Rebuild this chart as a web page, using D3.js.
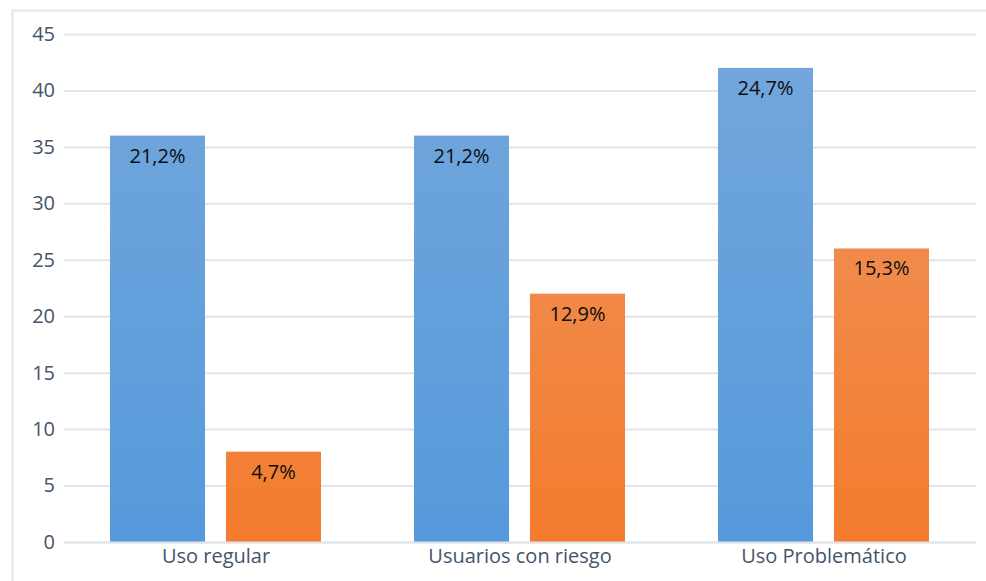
<!DOCTYPE html>
<html>
<head>
<meta charset="utf-8">
<script src="https://cdn.jsdelivr.net/npm/d3@7"></script>
<style>
  body { margin: 0; background: #fff; }
  text { font-family: "Open Sans", "Noto Sans", sans-serif; }
</style>
</head>
<body>
<div id="chart"></div>
<script>
const categories = ["Uso regular", "Usuarios con riesgo", "Uso Problemático"];
const seriesA = [36, 36, 42];
const seriesB = [8, 22, 26];
const labelsA = ["21,2%", "21,2%", "24,7%"];
const labelsB = ["4,7%", "12,9%", "15,3%"];
const yTicks = [0, 5, 10, 15, 20, 25, 30, 35, 40, 45];

const W = 986, H = 581;
const margin = { top: 34, right: 10, bottom: 39, left: 64 };
const width = 976 - margin.left;
const height = 542 - margin.top;

const svg = d3.select("#chart")
  .append("svg")
  .attr("width", W)
  .attr("height", H);

// chart frame (top and left edges visible)
svg.append("line")
  .attr("x1", 12).attr("x2", W).attr("y1", 10.5).attr("y2", 10.5)
  .attr("stroke", "#e3e6ec").attr("stroke-width", 2);
svg.append("line")
  .attr("x1", 12.5).attr("x2", 12.5).attr("y1", 10).attr("y2", H)
  .attr("stroke", "#e3e6ec").attr("stroke-width", 2);

const defs = svg.append("defs");
function grad(id, top, bottom) {
  const g = defs.append("linearGradient")
    .attr("id", id)
    .attr("gradientUnits", "userSpaceOnUse")
    .attr("x1", 0).attr("x2", 0)
    .attr("y1", margin.top).attr("y2", margin.top + height);
  g.append("stop").attr("offset", "0%").attr("stop-color", top);
  g.append("stop").attr("offset", "100%").attr("stop-color", bottom);
}
grad("gBlue", "#72a6dc", "#5399db");
grad("gOrange", "#ee9460", "#f47a29");

const g = svg.append("g")
  .attr("transform", "translate(" + margin.left + "," + margin.top + ")");

const x0 = d3.scaleBand().domain(categories).range([0, width]);
const x1 = d3.scaleBand().domain(["a", "b"]).range([46, 257]).paddingInner(0.181);
const y = d3.scaleLinear().domain([0, 45]).range([height, 0]);

// gridlines
g.append("g")
  .attr("class", "grid")
  .call(d3.axisLeft(y).tickValues(yTicks).tickSize(-width).tickFormat(""))
  .call(s => s.select(".domain").remove())
  .call(s => s.selectAll("line").attr("stroke", "#e1e4ea").attr("stroke-width", 2));

// y axis labels
g.append("g")
  .call(d3.axisLeft(y).tickValues(yTicks).tickSize(0).tickPadding(9))
  .call(s => s.select(".domain").remove())
  .call(s => s.selectAll("text")
    .attr("fill", "#44546a")
    .style("font-size", "20px"));

const data = categories.map((c, i) => ({
  cat: c,
  bars: [
    { key: "a", v: seriesA[i], label: labelsA[i] },
    { key: "b", v: seriesB[i], label: labelsB[i] }
  ]
}));

const grp = g.selectAll(".grp")
  .data(data)
  .enter()
  .append("g")
  .attr("transform", d => "translate(" + x0(d.cat) + ",0)");

grp.selectAll("rect")
  .data(d => d.bars)
  .enter()
  .append("rect")
  .attr("x", d => x1(d.key))
  .attr("width", x1.bandwidth())
  .attr("y", d => y(d.v))
  .attr("height", d => y(0) - y(d.v))
  .attr("fill", d => d.key === "a" ? "url(#gBlue)" : "url(#gOrange)");

grp.selectAll(".lbl")
  .data(d => d.bars)
  .enter()
  .append("text")
  .attr("class", "lbl")
  .attr("x", d => x1(d.key) + x1.bandwidth() / 2)
  .attr("y", d => y(d.v) + 27)
  .attr("text-anchor", "middle")
  .attr("fill", "#0d0d0d")
  .style("font-size", "20px")
  .text(d => d.label);

// x axis
g.append("g")
  .attr("transform", "translate(0," + height + ")")
  .call(d3.axisBottom(x0).tickSize(0).tickPadding(7))
  .call(s => s.select(".domain").attr("stroke", "#e1e4ea").attr("stroke-width", 2))
  .call(s => s.selectAll("text")
    .attr("fill", "#44546a")
    .style("font-size", "20px"));
</script>
</body>
</html>
